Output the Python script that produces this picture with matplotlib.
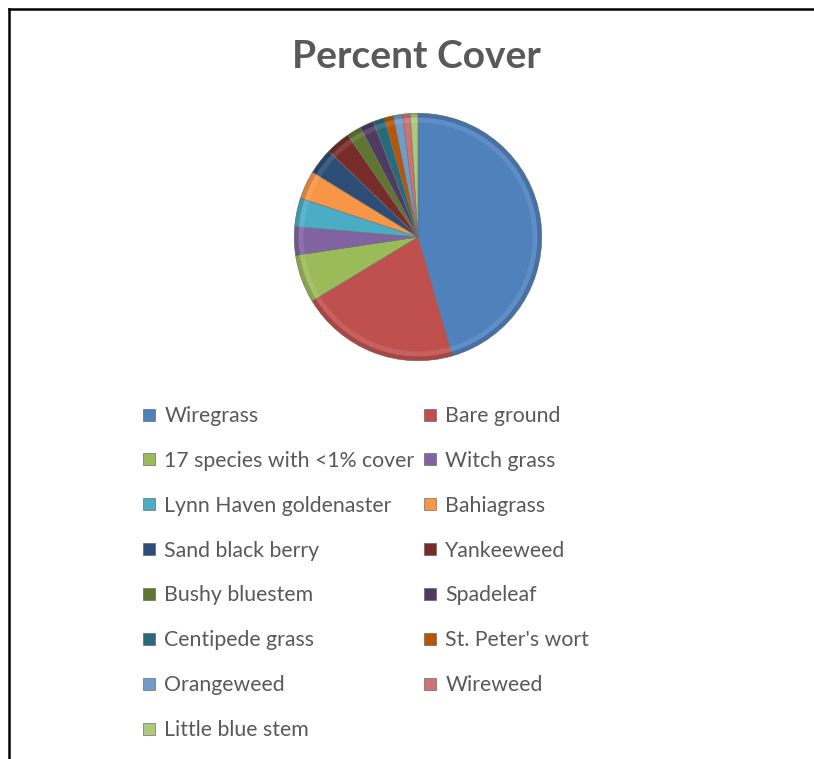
import matplotlib.pyplot as plt
from matplotlib.lines import Line2D
from matplotlib.patches import Wedge

species = ["Wiregrass", "Bare ground", "17 species with <1% cover", "Witch grass",
           "Lynn Haven goldenaster", "Bahiagrass", "Sand black berry", "Yankeeweed",
           "Bushy bluestem", "Spadeleaf", "Centipede grass", "St. Peter's wort",
           "Orangeweed", "Wireweed", "Little blue stem"]
cover = [45.5, 20.8, 6.3, 3.7, 3.75, 3.7, 3.4, 3.2, 1.9, 1.8, 1.5, 1.2, 1.2, 1.0, 1.0]
colors = ["#4F81BD", "#C0504D", "#9BBB59", "#8064A2", "#4BACC6", "#F79646",
          "#2C4D75", "#772C2A", "#5F7530", "#4D3B62", "#276A7C", "#B65708",
          "#729ACA", "#CD7371", "#AFC97A"]

text_color = "#595959"
plt.rcParams['font.family'] = ['Lato', 'DejaVu Sans']

fig = plt.figure(figsize=(8.14, 7.59), dpi=100)

# outer chart frame (runs off the right and bottom edges)
fig.add_artist(Line2D([9 / 814, 1.0], [1 - 9 / 759] * 2, color="black", lw=1.8,
                      transform=fig.transFigure))
fig.add_artist(Line2D([9 / 814] * 2, [0.0, 1 - 9 / 759], color="black", lw=1.8,
                      transform=fig.transFigure))

fig.text(416 / 814, 1 - 57 / 759, "Percent Cover", ha="center", va="center",
         fontsize=28, fontweight="bold", color=text_color)

# pie
cx, cy, r = 418, 759 - 237, 125
ax = fig.add_axes([(cx - r) / 814, (cy - r) / 759, 2 * r / 814, 2 * r / 759])
wedges, _ = ax.pie(cover, colors=colors, startangle=90, counterclock=False,
                   wedgeprops=dict(edgecolor="#6e6e6e", linewidth=0.4))
ax.set_xlim(-1.01, 1.01)
ax.set_ylim(-1.01, 1.01)
ax.set_aspect("equal")

# bevel look: soft darker rim on each slice plus a faint highlight band
for w in wedges:
    t1, t2 = w.theta1, w.theta2
    ax.add_patch(Wedge((0, 0), 1.0, t1, t2, width=0.035, facecolor="black",
                       alpha=0.12, lw=0))
    ax.add_patch(Wedge((0, 0), 0.965, t1, t2, width=0.04, facecolor="white",
                       alpha=0.10, lw=0))

# legend laid out row by row in two columns
order = list(range(0, len(species), 2)) + list(range(1, len(species), 2))
handles = [Line2D([], [], marker="s", ls="", markersize=8,
                  markerfacecolor=colors[i], markeredgecolor="#555555",
                  markeredgewidth=0.4) for i in order]
labels = [species[i] for i in order]
fig.legend(handles, labels, ncol=2, loc="upper left",
           bbox_to_anchor=(142 / 814, 1 - 406 / 759), frameon=False,
           fontsize=15.3, labelcolor=text_color, handlelength=0.7,
           handletextpad=0.35, columnspacing=0.4, labelspacing=1.17,
           borderpad=0, borderaxespad=0)

fig.savefig("out.png", dpi=100)
